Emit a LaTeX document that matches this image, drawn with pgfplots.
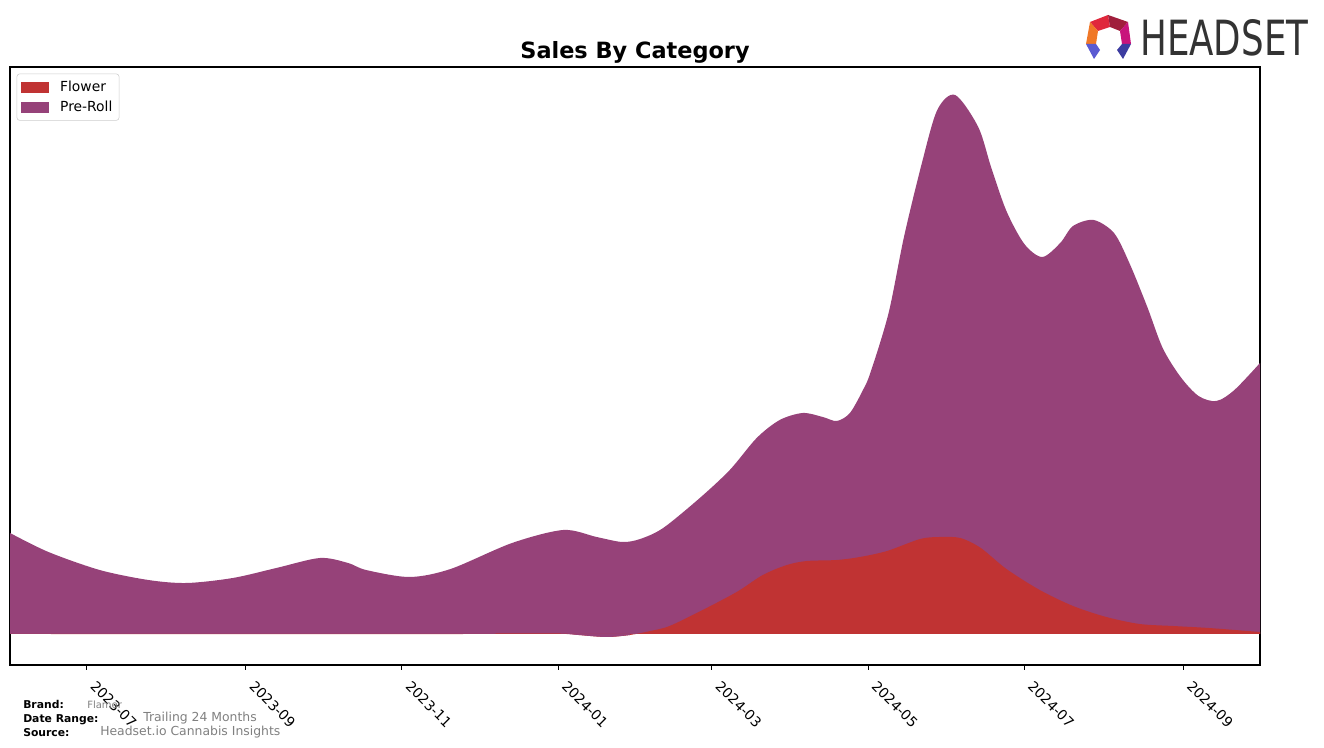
\documentclass[border=0pt]{standalone}
\usepackage{pgfplots}
\pgfplotsset{compat=1.18}
\usepackage{pgfplotstable}
\usepackage{fontspec}
\setmainfont{DejaVu Sans}
\definecolor{flowerc}{HTML}{C03333}
\definecolor{prerollc}{HTML}{964279}
\definecolor{footgray}{HTML}{808080}
\definecolor{logogray}{HTML}{333333}
\definecolor{lgA}{HTML}{E0283C}
\definecolor{lgB}{HTML}{A01E3C}
\definecolor{lgC}{HTML}{F07828}
\definecolor{lgD}{HTML}{C8147C}
\definecolor{lgE}{HTML}{5A5AD2}
\definecolor{lgF}{HTML}{3C3CA0}

% days since 2023-07-01, Flower sales
\pgfplotstableread{
x y
-30 0
150 0
160 0.5
185 0.5
192 -1
203 -3
212 -1
220 3
227.5 8
240.4 24
253.7 42
263.9 59
273.3 69
281.1 73
292.8 74
301.8 77
312.4 83
325.3 95
333 97
341 96
349 86
359 65
372 44
385 28
398 17
411 10
424 8
438 6
458 2
}\flowertab

% days since 2023-07-01, Flower + Pre-Roll (top of the stack)
\pgfplotstableread{
x y
-30 101
-15 82
5 64
24 54
39 51
57 56
74 66
91 76
102 71
109 64
126 57
142 65
166 91
186 104
199 97
209 92
216 95
225 106
239.3 136
251 164
261.5 196
270.5 214
279.5 221
287.3 217
292.8 213
297.9 221
303 244
306 262
313 321
319 397
326 471
332 524
339 539
348 507
353 467
359 423
366 390
373 377
380 391
385 408
393 414
401 401
407 371
414 327
420 286
427 257
434 238
441 233
448 244
458 271
}\totaltab

\begin{document}
\begin{tikzpicture}
\useasboundingbox (0,0) rectangle (993pt,561pt);
\begin{axis}[
  at={(7.5pt,62.25pt)}, anchor=south west,
  width=937.5pt, height=448.5pt, scale only axis,
  xmin=-30, xmax=458, ymin=-31, ymax=567,
  axis line style={black, line width=0.8pt},
  xtick={0,62,123,184,244,305,366,428},
  xticklabels={2023-07,2023-09,2023-11,2024-01,2024-03,2024-05,2024-07,2024-09},
  xtick pos=left, tick align=outside, ytick=\empty,
  major tick length=3.5pt, tick style={black, line width=0.8pt},
  xticklabel style={xshift=7.6pt, yshift=-6.1pt, rotate=-45, anchor=north west, font=\fontsize{10.4}{12}\selectfont, inner sep=1pt},
  legend style={at={(0,1)}, anchor=north west, xshift=5pt, yshift=-5pt,
    draw=black!20, rounded corners=2pt, fill=white,
    font=\fontsize{10.4}{12}\selectfont, row sep=2pt, inner xsep=3pt, inner ysep=3pt},
  legend cell align=left,
]
% Pre-Roll layer: from the Flower curve up to the stack top
\addplot[draw=none, fill=prerollc, smooth, forget plot] table[x=x, y=y] {\totaltab} \closedcycle;
% Flower layer
\addplot[draw=none, fill=flowerc, smooth, forget plot] table[x=x, y=y] {\flowertab} \closedcycle;
% where Flower dips below zero the Pre-Roll layer reaches down to it
\addplot[draw=none, fill=prerollc, smooth, forget plot, restrict x to domain=185:218] table[x=x, y=y] {\flowertab} \closedcycle;
\addlegendimage{legend image code/.code={\fill[flowerc, sharp corners] (0pt,-3.75pt) rectangle (20pt,3.75pt); \path (27pt,0pt);}}
\addlegendentry{Flower}
\addlegendimage{legend image code/.code={\fill[prerollc, sharp corners] (0pt,-3.75pt) rectangle (20pt,3.75pt); \path (27pt,0pt);}}
\addlegendentry{Pre-Roll}
\end{axis}

\begin{scope}[x=0.75pt, y=-0.75pt, shift={(0pt,561pt)}]
  % title
  \node[font=\fontsize{16.8}{20}\selectfont\bfseries, anchor=base] at (635,59) {Sales By Category};
  % footer
  \node[font=\fontsize{8.1}{9}\selectfont\bfseries, anchor=base west, inner sep=0] at (23,709) {Brand:};
  \node[font=\fontsize{7.5}{9}\selectfont, text=footgray, anchor=base west, inner sep=0] at (87,709) {Flamer};
  \node[font=\fontsize{8.1}{9}\selectfont\bfseries, anchor=base west, inner sep=0] at (23,723) {Date Range:};
  \node[font=\fontsize{9.3}{11}\selectfont, text=footgray, anchor=base west, inner sep=0] at (143,722) {Trailing 24 Months};
  \node[font=\fontsize{8.1}{9}\selectfont\bfseries, anchor=base west, inner sep=0] at (23,737) {Source:};
  \node[font=\fontsize{9.3}{11}\selectfont, text=footgray, anchor=base west, inner sep=0] at (100,736) {Headset.io Cannabis Insights};
  % logo
  \fill[lgA] (1090,22) -- (1108,15) -- (1110,27) -- (1098,31) -- cycle;
  \fill[lgB] (1108,15) -- (1128,22) -- (1120,31) -- (1110,27) -- cycle;
  \fill[lgC] (1090,22) -- (1098,31) -- (1096,44) -- (1086,44) -- cycle;
  \fill[lgD] (1128,22) -- (1131,44) -- (1122,44) -- (1120,31) -- cycle;
  \fill[lgE] (1086,44) -- (1096,44) -- (1100,50) -- (1094,59) -- cycle;
  \fill[lgF] (1122,44) -- (1131,44) -- (1123,59) -- (1117,50) -- cycle;
  \node[anchor=base west, inner sep=0, text=logogray] at (1140,56) {\resizebox{126pt}{27pt}{HEADSET}};
\end{scope}
\end{tikzpicture}
\end{document}
